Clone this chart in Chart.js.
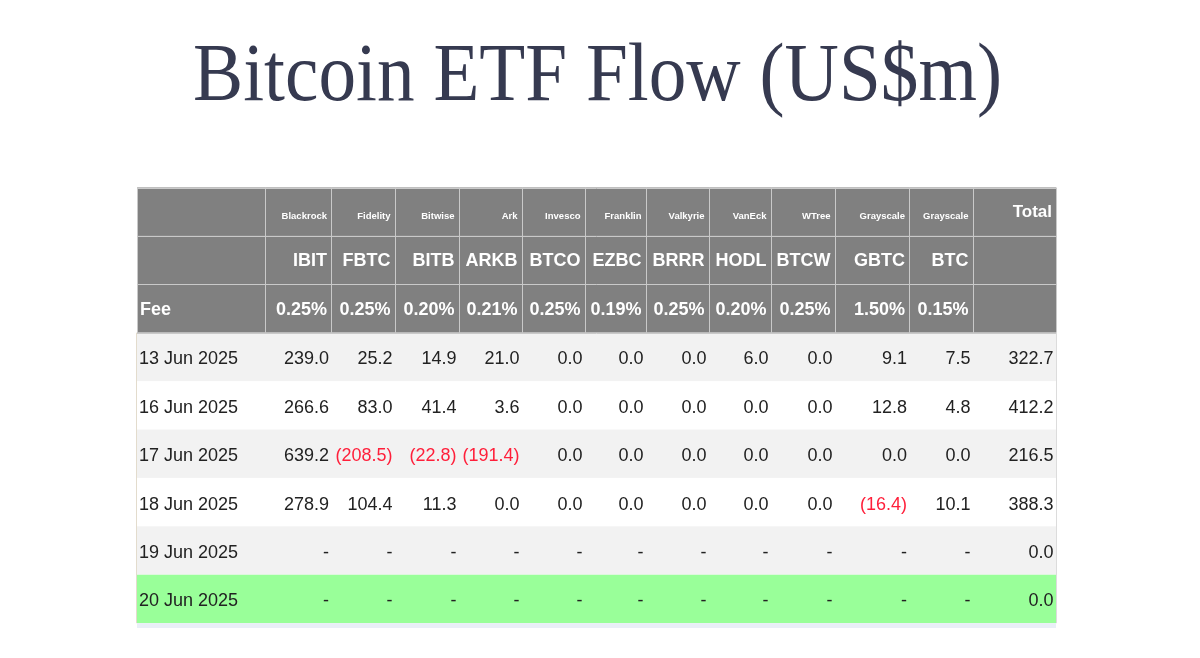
<!DOCTYPE html>
<html><head><meta charset="utf-8">
<script src="https://cdn.jsdelivr.net/npm/chart.js@4.4.0/dist/chart.umd.min.js"></script>
<style>html,body{margin:0;padding:0;background:#fff;overflow:hidden}#wrap{width:1200px;height:658px;position:relative}</style>
</head><body><div id="wrap"><canvas id="c"></canvas></div>
<script>
// ---- data ----
const titleText = "Bitcoin ETF Flow (US$m)";
const issuers = ["Blackrock","Fidelity","Bitwise","Ark","Invesco","Franklin","Valkyrie","VanEck","WTree","Grayscale","Grayscale"];
const tickers = ["IBIT","FBTC","BITB","ARKB","BTCO","EZBC","BRRR","HODL","BTCW","GBTC","BTC"];
const fees = ["0.25%","0.25%","0.20%","0.21%","0.25%","0.19%","0.25%","0.20%","0.25%","1.50%","0.15%"];
const dates = ["13 Jun 2025","16 Jun 2025","17 Jun 2025","18 Jun 2025","19 Jun 2025","20 Jun 2025"];
const IBIT = [239.0, 266.6, 639.2, 278.9, null, null];
const FBTC = [25.2, 83.0, -208.5, 104.4, null, null];
const BITB = [14.9, 41.4, -22.8, 11.3, null, null];
const ARKB = [21.0, 3.6, -191.4, 0.0, null, null];
const BTCO = [0.0, 0.0, 0.0, 0.0, null, null];
const EZBC = [0.0, 0.0, 0.0, 0.0, null, null];
const BRRR = [0.0, 0.0, 0.0, 0.0, null, null];
const HODL = [6.0, 0.0, 0.0, 0.0, null, null];
const BTCW = [0.0, 0.0, 0.0, 0.0, null, null];
const GBTC = [9.1, 12.8, 0.0, -16.4, null, null];
const BTC  = [7.5, 4.8, 0.0, 10.1, null, null];
const totals = [322.7, 412.2, 216.5, 388.3, 0.0, 0.0];
const series = [IBIT, FBTC, BITB, ARKB, BTCO, EZBC, BRRR, HODL, BTCW, GBTC, BTC];

// ---- layout (column edges in table units, rows in row units) ----
const colEdges = [0,128,194,257.5,321.5,384.5,447.5,508.5,571.5,633.5,697.5,772,835.5,919];
const headerRows = 3;
const totalRows = headerRows + dates.length + 1;

function fmt(v){
  if (v === null || v === undefined) return "-";
  if (v < 0) return "(" + Math.abs(v).toFixed(1) + ")";
  return v.toFixed(1);
}

const tablePlugin = {
  id: 'tablePlugin',
  beforeDatasetsDraw(chart){
    const ctx = chart.ctx, xs = chart.scales.x, ys = chart.scales.y, ca = chart.chartArea;
    const X = v => xs.getPixelForValue(v);
    const Y = v => ys.getPixelForValue(v);
    const left = X(colEdges[0]), right = X(colEdges[colEdges.length-1]);
    ctx.save();
    ctx.beginPath(); ctx.rect(ca.left-2, ca.top-2, ca.right-ca.left+4, ca.bottom-ca.top+2); ctx.clip();
    // row backgrounds
    for (let r = 0; r < totalRows; r++){
      let fill;
      if (r < headerRows) fill = '#808080';
      else if (r === totalRows-1) fill = '#e9eff7';
      else {
        const d = r - headerRows;
        if (d === dates.length-1) fill = '#99ff99';
        else fill = (d % 2 === 0) ? '#f2f2f2' : '#ffffff';
      }
      ctx.fillStyle = fill;
      ctx.fillRect(left, Y(r), right-left, Y(r+1)-Y(r));
    }
    // header grid lines
    ctx.strokeStyle = '#c9c9c9'; ctx.lineWidth = 1;
    for (let r = 0; r <= headerRows; r++){
      const y = Math.round(Y(r)) + 0.5;
      ctx.beginPath(); ctx.moveTo(left, y); ctx.lineTo(right, y); ctx.stroke();
    }
    for (let c = 0; c < colEdges.length; c++){
      const x = Math.round(X(colEdges[c])) + 0.5;
      ctx.beginPath(); ctx.moveTo(x, Y(0)); ctx.lineTo(x, Y(headerRows)); ctx.stroke();
    }
    // outer side borders of the body
    ctx.strokeStyle = '#e3dccd';
    ctx.beginPath(); ctx.moveTo(Math.round(left)-0.5, Y(headerRows)); ctx.lineTo(Math.round(left)-0.5, Y(totalRows-1)); ctx.stroke();
    ctx.strokeStyle = '#dcdcdc';
    ctx.beginPath(); ctx.moveTo(Math.round(right)+0.5, Y(headerRows)); ctx.lineTo(Math.round(right)+0.5, Y(totalRows-1)); ctx.stroke();

    const mid = r => (Y(r) + Y(r+1)) / 2;
    ctx.textBaseline = 'middle';
    // header row 1: issuers + Total
    ctx.fillStyle = '#ffffff'; ctx.textAlign = 'right';
    ctx.font = 'bold 9.5px "Liberation Sans", Arial, sans-serif';
    issuers.forEach((t,i) => ctx.fillText(t, X(colEdges[i+2]) - 4, mid(0) + 5));
    ctx.font = 'bold 17px "Liberation Sans", Arial, sans-serif';
    ctx.fillText('Total', X(colEdges[colEdges.length-1]) - 4, mid(0) + 1);
    // header row 2: tickers
    ctx.font = 'bold 18px "Liberation Sans", Arial, sans-serif';
    tickers.forEach((t,i) => ctx.fillText(t, X(colEdges[i+2]) - 4, mid(1) + 1));
    // fee row
    fees.forEach((t,i) => ctx.fillText(t, X(colEdges[i+2]) - 4, mid(2) + 2));
    ctx.textAlign = 'left';
    ctx.fillText('Fee', X(colEdges[0]) + 3, mid(2) + 2);
    // body
    ctx.font = '18px "Liberation Sans", Arial, sans-serif';
    dates.forEach((d, di) => {
      const r = headerRows + di, y = mid(r) + 2.5;
      ctx.textAlign = 'left'; ctx.fillStyle = '#222222';
      ctx.fillText(d, X(colEdges[0]) + 2, y);
      ctx.textAlign = 'right';
      series.forEach((s, si) => {
        const v = s[di];
        ctx.fillStyle = (v !== null && v < 0) ? '#ff1f3a' : '#222222';
        ctx.fillText(fmt(v), X(colEdges[si+2]) - 2, y);
      });
      ctx.fillStyle = totals[di] < 0 ? '#ff1f3a' : '#222222';
      ctx.fillText(fmt(totals[di]), X(colEdges[colEdges.length-1]) - 2.5, y);
    });
    ctx.restore();
  },
  afterDraw(chart){
    const ctx = chart.ctx;
    ctx.save();
    ctx.font = '83px "Liberation Serif", "Times New Roman", serif';
    ctx.fillStyle = '#363a50';
    ctx.textBaseline = 'alphabetic';
    ctx.textAlign = 'center';
    const w = ctx.measureText(titleText).width;
    const sx = 809 / w;
    ctx.translate(597.5, 100);
    ctx.scale(sx, 1);
    ctx.fillText(titleText, 0, 0);
    ctx.restore();
  }
};

new Chart(document.getElementById('c'), {
  type: 'scatter',
  data: { datasets: [{ data: [], pointRadius: 0 }] },
  options: {
    responsive: true, maintainAspectRatio: false, animation: false,
    layout: { padding: { left: 137, right: 144, top: 187.5, bottom: 30 } },
    plugins: { legend: { display: false }, tooltip: { enabled: false }, title: { display: false } },
    scales: {
      x: { type: 'linear', display: false, min: colEdges[0], max: colEdges[colEdges.length-1] },
      y: { type: 'linear', display: false, reverse: true, min: 0, max: totalRows - 0.9 }
    }
  },
  plugins: [tablePlugin]
});
</script></body></html>
